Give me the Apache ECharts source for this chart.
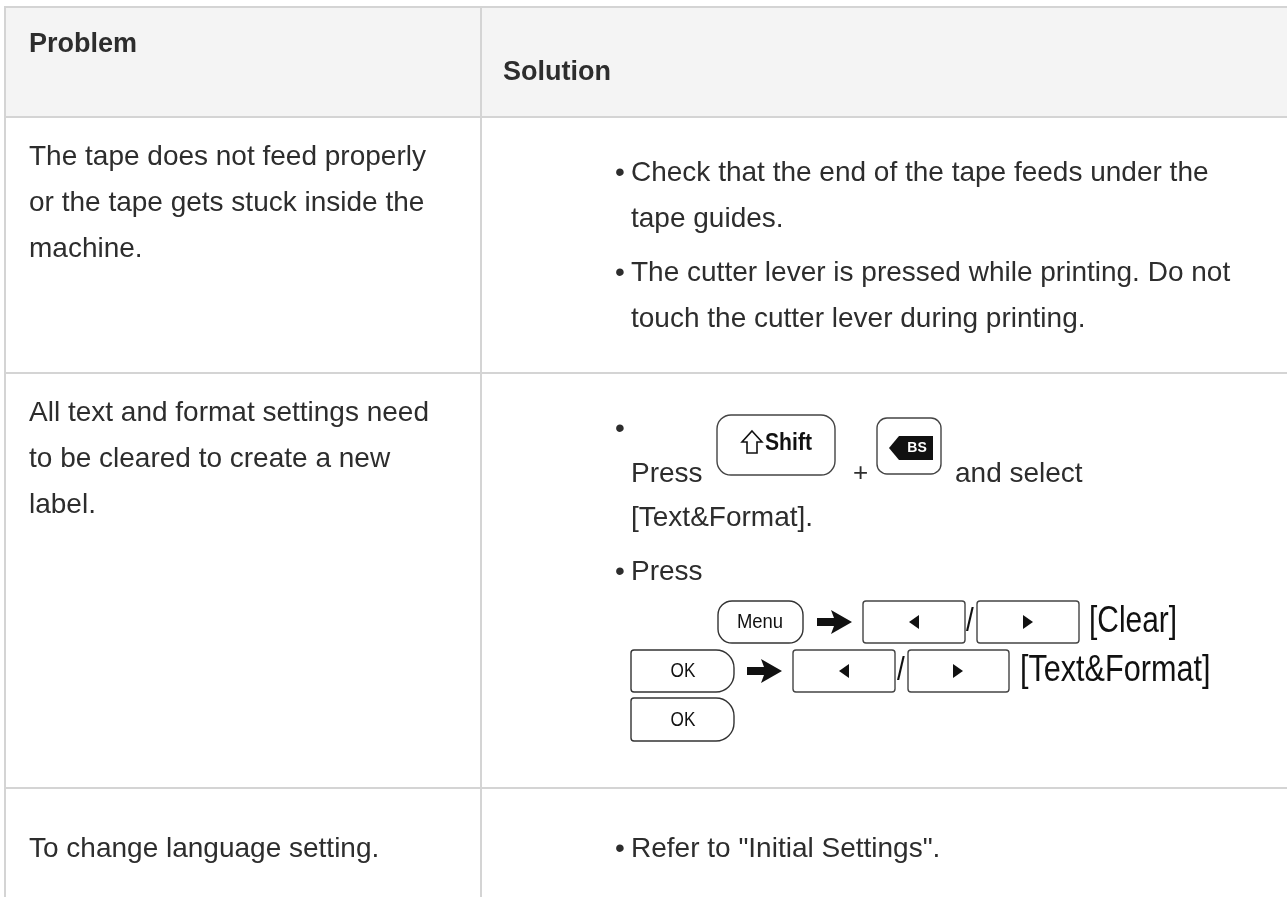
<!DOCTYPE html>
<html>
<head>
<meta charset="utf-8">
<script src="https://cdn.jsdelivr.net/npm/echarts@6/dist/echarts.min.js"></script>
<style>
html,body{margin:0;padding:0;background:#fff;}
#chart{width:1287px;height:897px;}
</style>
</head>
<body>
<div id="chart"></div>
<script>
// ---- content ----
const headers = ['Problem', 'Solution'];
const problems = [
  ['The tape does not feed properly', 'or the tape gets stuck inside the', 'machine.'],
  ['All text and format settings need', 'to be cleared to create a new', 'label.'],
  ['To change language setting.']
];
const solutionsRow1 = [
  ['Check that the end of the tape feeds under the', 'tape guides.'],
  ['The cutter lever is pressed while printing. Do not', 'touch the cutter lever during printing.']
];
const solutionRow2Words = ['Press', '+', 'and select', '[Text&Format].', 'Press'];
const keyLabels = ['Shift', 'BS', 'Menu', 'OK'];
const menuSteps = ['[Clear]', '[Text&Format]'];
const solutionsRow3 = ['Refer to "Initial Settings".'];

// ---- layout ----
const FONT = '"Liberation Sans", Arial, sans-serif';
const TXT = '#2d2d2d';
const LINE = '#d4d4d4';
const els = [];

function text(x, y, s, o) {
  o = o || {};
  els.push({
    type: 'text', x: x, y: y, scaleX: o.sx || 1, z: 10,
    style: {
      text: s, fill: o.fill || TXT,
      font: (o.weight || 'normal') + ' ' + (o.size || 28) + 'px ' + (o.family || FONT),
      textAlign: o.align || 'left', textVerticalAlign: 'middle'
    }
  });
}
function line(x1, y1, x2, y2) {
  els.push({ type: 'line', z: 5, shape: { x1: x1, y1: y1, x2: x2, y2: y2 }, style: { stroke: LINE, lineWidth: 2 } });
}
function box(x, y, w, h, r, stroke) {
  els.push({ type: 'rect', z: 8, shape: { x: x, y: y, width: w, height: h, r: r },
    style: { fill: '#fff', stroke: stroke || '#333', lineWidth: 1.4 } });
}
function poly(pts, fill, stroke) {
  els.push({ type: 'polygon', z: 9, shape: { points: pts },
    style: { fill: fill || '#111', stroke: stroke || null, lineWidth: 1.6 } });
}
function arrow(x, y) {
  poly([[x, y - 4], [x + 17, y - 4], [x + 14, y - 12], [x + 35, y], [x + 14, y + 12], [x + 17, y + 4], [x, y + 4]]);
}
function triL(cx, cy) { poly([[cx - 5, cy], [cx + 5, cy - 7], [cx + 5, cy + 7]]); }
function triR(cx, cy) { poly([[cx + 5, cy], [cx - 5, cy - 7], [cx - 5, cy + 7]]); }

// header background
els.push({ type: 'rect', z: 1, shape: { x: 5, y: 7, width: 1282, height: 110 }, style: { fill: '#f4f4f4' } });

// grid lines
line(4, 7, 1287, 7);
line(5, 6, 5, 897);
line(481, 6, 481, 897);
line(5, 117, 1287, 117);
line(5, 373, 1287, 373);
line(5, 788, 1287, 788);

// header text
text(29, 45, headers[0], { weight: 'bold', size: 27 });
text(503, 73, headers[1], { weight: 'bold', size: 27 });

// problem column
const probY = [157, 413, 849];
problems.forEach(function (lines, i) {
  lines.forEach(function (s, j) { text(29, probY[i] + j * 46, s); });
});

// solutions row 1
const BX = 620, TX = 631;
const sol1Y = [173, 273];
solutionsRow1.forEach(function (lines, i) {
  text(BX, sol1Y[i], '•', { align: 'center' });
  lines.forEach(function (s, j) { text(TX, sol1Y[i] + j * 46, s); });
});

// solutions row 2
text(BX, 429, '•', { align: 'center' });
text(TX, 474, solutionRow2Words[0]);
// Shift key
box(717, 415, 118, 60, 14, '#444');
// outlined up-arrow glyph of the Shift key
poly([[752, 431], [762, 442], [757, 442], [757, 453], [747, 453], [747, 442], [742, 442]], '#fff', '#111');
text(765, 444, keyLabels[0], { weight: 'bold', size: 23, sx: 0.92, fill: '#111' });
text(853, 474, solutionRow2Words[1], { size: 26 });
// BS key
box(877, 418, 64, 56, 10, '#444');
poly([[889, 448], [899, 436], [933, 436], [933, 460], [899, 460]]);
text(917, 448, keyLabels[1], { weight: 'bold', size: 14, align: 'center', fill: '#fff' });
text(955, 474, solutionRow2Words[2]);
text(TX, 518, solutionRow2Words[3]);
text(BX, 572, '•', { align: 'center' });
text(TX, 572, solutionRow2Words[4]);

// Menu row
box(718, 601, 85, 42, 14, '#333');
text(760, 622, keyLabels[2], { size: 21, align: 'center', sx: 0.88, fill: '#111' });
arrow(817, 622);
box(863, 601, 102, 42, 3, '#444'); triL(914, 622);
text(966, 622, '/', { size: 34, sx: 0.82, fill: '#111' });
box(977, 601, 102, 42, 3, '#444'); triR(1028, 622);
text(1089, 622, menuSteps[0], { size: 36, sx: 0.83, fill: '#111' });

// OK row
box(631, 650, 103, 42, [3, 18, 18, 3], '#333');
text(683, 671, keyLabels[3], { size: 20, align: 'center', sx: 0.86, fill: '#111' });
arrow(747, 671);
box(793, 650, 102, 42, 3, '#444'); triL(844, 671);
text(897, 671, '/', { size: 34, sx: 0.82, fill: '#111' });
box(908, 650, 101, 42, 3, '#444'); triR(958, 671);
text(1020, 671, menuSteps[1], { size: 36, sx: 0.85, fill: '#111' });

// OK row 2
box(631, 698, 103, 43, [3, 18, 18, 3], '#333');
text(683, 720, keyLabels[3], { size: 20, align: 'center', sx: 0.86, fill: '#111' });

// row 3 solution
text(BX, 849, '•', { align: 'center' });
text(TX, 849, solutionsRow3[0]);

const chart = echarts.init(document.getElementById('chart'), null, { renderer: 'canvas' });
chart.setOption({
  backgroundColor: '#ffffff',
  animation: false,
  graphic: { elements: els }
});
</script>
</body>
</html>
